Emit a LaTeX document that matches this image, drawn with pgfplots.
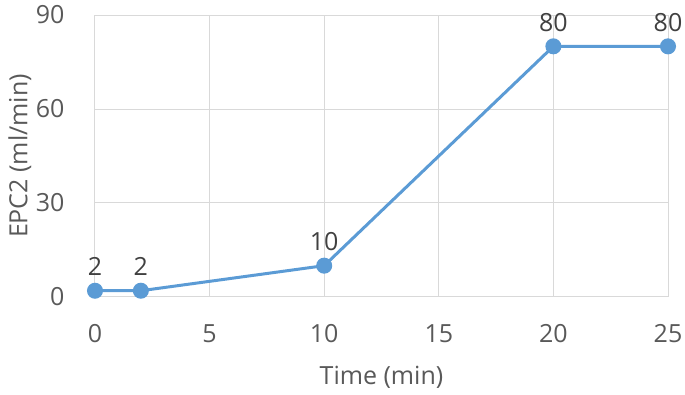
\documentclass[border=0pt]{standalone}
\usepackage{pgfplots}
\pgfplotsset{compat=1.18}
\usepackage{fontspec}
\setmainfont{Open Sans}
\definecolor{lineblue}{HTML}{5B9BD5}
\definecolor{gridgray}{HTML}{D9D9D9}
\definecolor{ticktext}{HTML}{595959}
\definecolor{datatext}{HTML}{404040}
\begin{document}
\begin{tikzpicture}
\begin{axis}[
  scale only axis,
  width=573pt, height=282pt,
  xmin=0, xmax=25, ymin=0, ymax=90,
  xtick={0,5,10,15,20,25},
  ytick={0,30,60,90},
  grid=major,
  major grid style={gridgray, line width=1pt},
  axis line style={gridgray, line width=1pt},
  major tick length=0pt,
  tick style={draw=none},
  font=\fontsize{25}{30}\selectfont,
  ticklabel style={ticktext, font=\fontsize{25}{30}\selectfont},
  /pgf/number format/assume math mode=true,
  xticklabel style={anchor=center, yshift=-37pt},
  yticklabel style={anchor=east, xshift=-27pt},
  xlabel={Time (min)},
  ylabel={EPC2 (ml/min)},
  label style={ticktext, font=\fontsize{25}{30}\selectfont},
  xlabel style={at={(axis description cs:0.5,-0.284)}, anchor=center},
  ylabel style={at={(axis description cs:-0.131,0.5)}, anchor=center},
  clip=false,
]
\addplot[lineblue, line width=3pt, mark=*, mark size=6.5pt,
  mark options={fill=lineblue, draw=lineblue},
  nodes near coords,
  every node near coord/.append style={datatext, font=\fontsize{25}{30}\selectfont, anchor=south, yshift=10pt}]
  coordinates {(0,2) (2,2) (10,10) (20,80) (25,80)};
\coordinate (sw) at (rel axis cs:0,0);
\coordinate (ne) at (rel axis cs:1,1);
\end{axis}
\pgfresetboundingbox
\useasboundingbox ([xshift=-95pt,yshift=-98pt]sw) rectangle ([xshift=17pt,yshift=15pt]ne);
\end{tikzpicture}
\end{document}
